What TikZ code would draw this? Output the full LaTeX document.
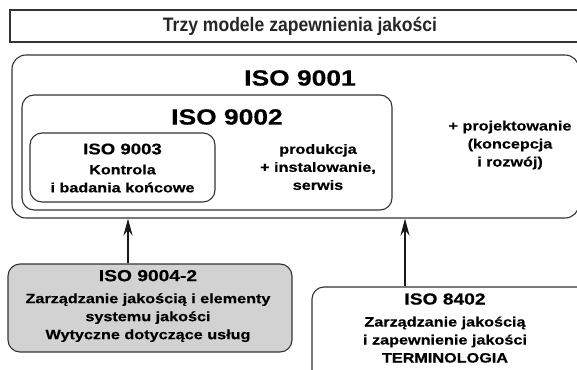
\documentclass[tikz,border=0pt]{standalone}
\usepackage{fontspec}
\setmainfont{Liberation Sans}[FakeStretch=1.2, BoldFeatures={FakeBold=0.4}]
\newfontfamily\titlefont{Liberation Sans Bold}[FakeStretch=0.9]
\usetikzlibrary{arrows.meta}
\begin{document}
\begin{tikzpicture}[x=1pt,y=-1pt,
  frame/.style={draw=black!80, line width=1.1pt, rounded corners=12pt, inner sep=0pt},
  plainframe/.style={draw=black!80, line width=1.1pt, inner sep=0pt},
  head/.style={font=\bfseries\fontsize{22}{26}\selectfont},
  body/.style={font=\bfseries\fontsize{13.5}{18}\selectfont, align=center, inner sep=0pt},
  arr/.style={line width=1.9pt, draw=black!90, -{Stealth[length=17pt,width=9pt]}}
]
\useasboundingbox (0,0) rectangle (577,369);
\clip (0,0) rectangle (577,369);

% title bar
\node[plainframe, minimum width=578pt, minimum height=32pt] (title) at (299,26) {};
\node[font=\titlefont\fontsize{19.5}{22}\selectfont, text=black!85] (titletext) at (300,26) {Trzy modele zapewnienia jakości};

% nested quality models
\node[frame, rounded corners=14pt, minimum width=567pt, minimum height=163pt] (iso9001) at (295.5,136.5) {};
\node[head] (l9001) at (300,78) {ISO 9001};
\node[frame, minimum width=370pt, minimum height=115pt] (iso9002) at (207,152.5) {};
\node[head] (l9002) at (227,117) {ISO 9002};
\node[frame, minimum width=185pt, minimum height=69pt] (iso9003) at (122.5,167.5) {};
\node[body] (t9003) at (122.5,168) {{\fontsize{15.5}{18}\selectfont ISO 9003}\\[2pt]Kontrola\\i badania końcowe};
\node[body] (t9002) at (318,167) {produkcja\\+ instalowanie,\\serwis};
\node[body] (t9001) at (510,145) {+ projektowanie\\(koncepcja\\i rozwój)};

% supporting standards
\node[frame, fill=gray!35, minimum width=284pt, minimum height=88pt] (iso9004) at (150,308) {};
\node[body] (t9004) at (148,306) {{\fontsize{16}{18}\selectfont ISO 9004-2}\\[4pt]Zarządzanie jakością i elementy\\systemu jakości\\Wytyczne dotyczące usług};
\node[frame, minimum width=278pt, minimum height=95pt] (iso8402) at (451,334.5) {};
\node[body] (t8402) at (445,328) {{\fontsize{16}{18}\selectfont ISO 8402}\\[4pt]Zarządzanie jakością\\i zapewnienie jakości\\TERMINOLOGIA};

% arrows
\draw[arr] ([xshift=-22pt]iso9004.north) -- ([xshift=-22pt]iso9004.north |- iso9001.south);
\draw[arr] ([xshift=-46pt]iso8402.north) -- ([xshift=-46pt]iso8402.north |- iso9001.south);
\end{tikzpicture}
\end{document}
